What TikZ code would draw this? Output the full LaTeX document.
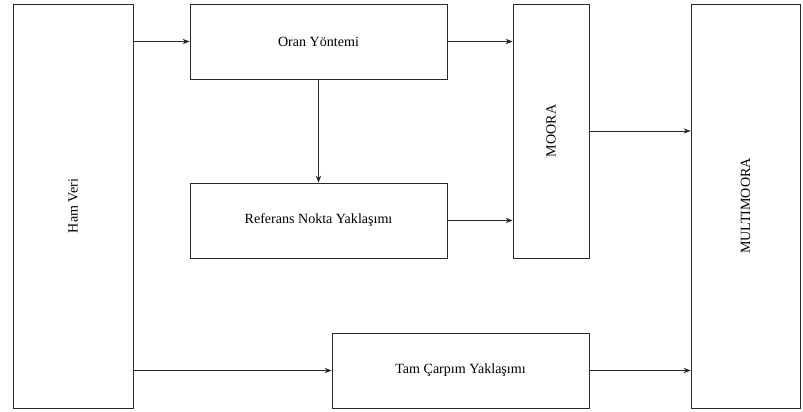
\documentclass[tikz,border=0pt]{standalone}
\usepackage{fontspec}
\setmainfont{Liberation Serif}
\usetikzlibrary{arrows.meta, positioning}
\definecolor{tLine}{RGB}{40, 40, 40}

\begin{document}
\begin{tikzpicture}[
    x=0.03cm, y=-0.03cm,
    font=\fontsize{12}{14}\selectfont,
    >={Stealth[length=6pt, width=4.5pt]},
    block/.style={
        draw=tLine,
        line width=0.6pt,
        inner sep=0pt,
        align=center
    },
    arrow/.style={->, line width=0.6pt, color=tLine}
]
\useasboundingbox (0,0) rectangle (803,411);

% left input and right result (vertical text)
\node[block, minimum width=3.6cm, minimum height=12.12cm,
      label={[rotate=90]center:Ham Veri}] (ham) at (73, 206) {};
\node[block, minimum width=3.27cm, minimum height=12.12cm,
      label={[rotate=90]center:MULTIMOORA}] (multi) at (745.5, 206) {};

% MOORA parts
\node[block, minimum width=7.71cm, minimum height=2.25cm] (oran) at (318.5, 41.5) {Oran Yöntemi};
\node[block, minimum width=7.71cm, minimum height=2.25cm] (ref) at (318.5, 220.5) {Referans Nokta Yaklaşımı};
\node[block, minimum width=2.28cm, minimum height=7.62cm,
      label={[rotate=90]center:MOORA}] (moora) at (551, 131) {};

% full multiplicative form
\node[block, minimum width=7.71cm, minimum height=2.25cm] (tam) at (460.5, 370.5) {Tam Çarpım Yaklaşımı};

\draw[arrow] (ham.east |- oran.west) -- (oran.west);
\draw[arrow] (oran.south) -- (ref.north);
\draw[arrow] (oran.east) -- (oran.east -| moora.west);
\draw[arrow] (ref.east) -- (ref.east -| moora.west);
\draw[arrow] (moora.east) -- (moora.east -| multi.west);
\draw[arrow] (ham.east |- tam.west) -- (tam.west);
\draw[arrow] (tam.east) -- (tam.east -| multi.west);

\end{tikzpicture}
\end{document}
